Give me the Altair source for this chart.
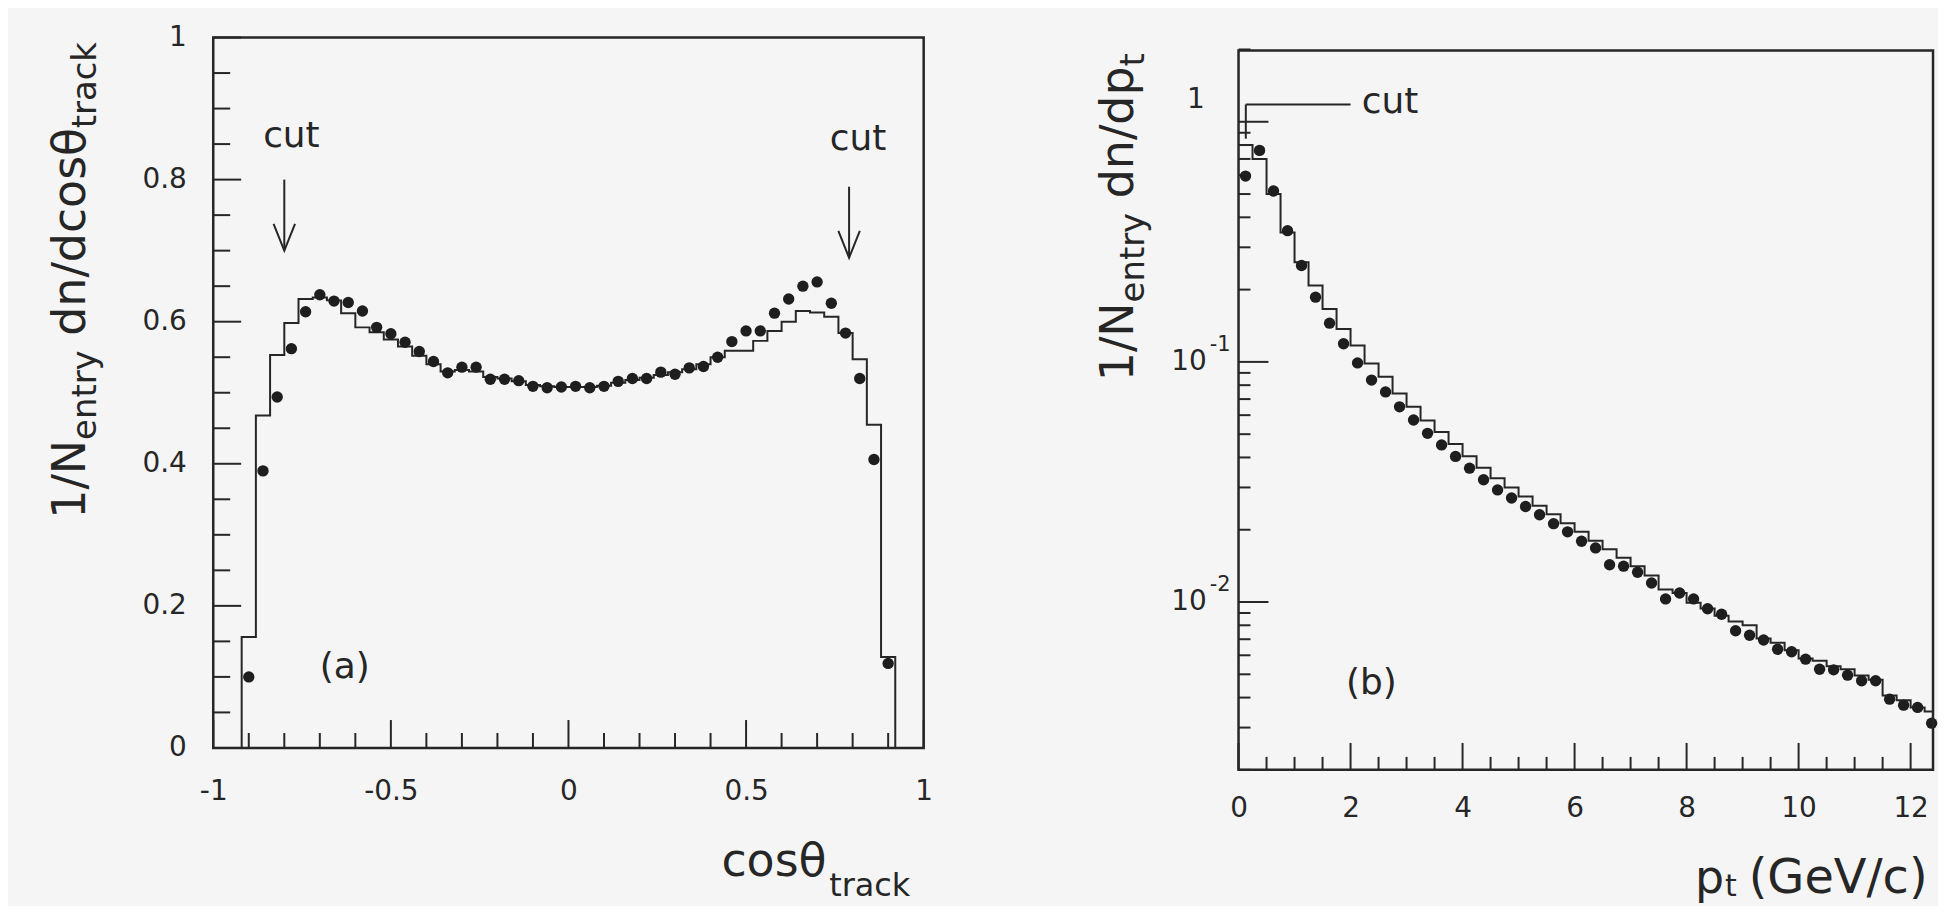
import altair as alt
import pandas as pd

FONT = "DejaVu Sans"
INK = "#262626"
BG = "#f5f5f5"

# ---------------- panel (a): cos(theta_track) ----------------
# 0.04-wide bins, centres -0.90 ... 0.90
cos_centres = [round(-0.90 + 0.04 * i, 2) for i in range(46)]
cos_data = [0.10, 0.39, 0.494, 0.562, 0.614, 0.638, 0.629, 0.627, 0.615, 0.592,
            0.583, 0.571, 0.558, 0.544, 0.528, 0.536, 0.536, 0.519, 0.519, 0.517,
            0.509, 0.507, 0.508, 0.509, 0.507, 0.509, 0.516, 0.520, 0.520, 0.529,
            0.526, 0.535, 0.537, 0.550, 0.572, 0.587, 0.587, 0.612, 0.632, 0.650,
            0.656, 0.626, 0.584, 0.520, 0.406, 0.119]
cos_mc = [0.156, 0.468, 0.553, 0.598, 0.632, 0.634, 0.630, 0.612, 0.592, 0.585,
          0.575, 0.565, 0.552, 0.540, 0.530, 0.532, 0.530, 0.522, 0.520, 0.516,
          0.511, 0.509, 0.508, 0.508, 0.508, 0.510, 0.514, 0.518, 0.521, 0.525,
          0.529, 0.533, 0.540, 0.550, 0.559, 0.559, 0.573, 0.587, 0.600, 0.615,
          0.613, 0.607, 0.584, 0.547, 0.455, 0.128]
cos_edges = [round(-0.92 + 0.04 * i, 2) for i in range(47)]
cut_a_x = [-0.80, 0.79]
cut_a_top = [0.80, 0.79]
cut_a_tip = [0.70, 0.69]
cut_a_label_x = [-0.78, 0.815]
cut_a_label_y = [0.862, 0.857]

# ---------------- panel (b): p_t ----------------
pt_centres = [0.125 + 0.25 * i for i in range(50)]
pt_data = [0.594, 0.76, 0.515, 0.352, 0.252, 0.186, 0.145, 0.119, 0.099, 0.084,
           0.075, 0.065, 0.0573, 0.0504, 0.0451, 0.0404, 0.0361, 0.0323, 0.0293, 0.0271,
           0.0250, 0.0231, 0.0212, 0.0196, 0.0179, 0.0168, 0.0143, 0.0141, 0.0133, 0.0120,
           0.0103, 0.0109, 0.0103, 0.00938, 0.00889, 0.00759, 0.00727, 0.00695, 0.00636, 0.00621,
           0.00578, 0.00525, 0.00522, 0.00496, 0.00470, 0.00470, 0.00394, 0.00372, 0.00364, 0.00313]
pt_mc = [0.80, 0.70, 0.50, 0.346, 0.26, 0.208, 0.166, 0.137, 0.117, 0.0984,
         0.0867, 0.0738, 0.0650, 0.0570, 0.0510, 0.0455, 0.0405, 0.0362, 0.0328, 0.0300,
         0.0275, 0.0252, 0.0232, 0.0213, 0.0196, 0.0180, 0.0166, 0.0153, 0.0141, 0.0129,
         0.01128, 0.0109, 0.00993, 0.0094, 0.00877, 0.0083, 0.0080, 0.00705, 0.00676, 0.0063,
         0.00582, 0.0057, 0.0054, 0.00525, 0.00494, 0.00475, 0.00408, 0.0039, 0.00364, 0.0035]
pt_edges = [0.25 * i for i in range(50)] + [12.4]
cut_b_x = 0.13
cut_b_x_end = 2.0
cut_b_y = 1.18
cut_b_y_low = 0.85

# ---------------- tick positions ----------------
a_y_major = [0, 0.2, 0.4, 0.6, 0.8, 1.0]
a_y_minor = [round(0.05 * i, 2) for i in range(21) if i % 4]
a_x_major = [-1, -0.5, 0, 0.5, 1]
a_x_minor = [round(-1 + 0.1 * i, 1) for i in range(21) if i % 5]
b_x_major = [0, 2, 4, 6, 8, 10, 12]
b_x_minor = [0.5 * i for i in range(25) if i % 4]
b_y_major = [1, 0.1, 0.01]
b_y_minor = [2] + [m * 10.0 ** e for e in (-1, -2, -3) for m in range(2, 10)]

WA, HA = 713, 713
WB, HB = 697, 735
B_TOP = 13

# DejaVu Sans advance widths (em) for laying out composed titles
ADV = {'1': 0.636, '/': 0.337, 'N': 0.748, 'e': 0.615, 'n': 0.634, 't': 0.392,
       'r': 0.411, 'y': 0.592, ' ': 0.318, 'd': 0.635, 'c': 0.550, 'o': 0.612,
       's': 0.521, 'θ': 0.602, 'a': 0.613, 'k': 0.579, 'p': 0.635}


def tw(s, size):
    return sum(ADV.get(ch, 0.6) for ch in s) * size


def one(**kw):
    return pd.DataFrame({k: [v] for k, v in kw.items()})


def ptext(text, x, y, size, angle=0, align="left", baseline="alphabetic"):
    return alt.Chart(one(t=text)).mark_text(
        font=FONT, fontSize=size, angle=angle, align=align, baseline=baseline, color=INK
    ).encode(x=alt.value(x), y=alt.value(y), text="t:N")


# ================= panel (a) =================
xsA = alt.Scale(domain=[-1, 1], nice=False, zero=False)
ysA = alt.Scale(domain=[0, 1], nice=False, zero=False)
xaxA = alt.Axis(values=a_x_major, ticks=False, domain=False, grid=False, labelPadding=30,
                labelFontSize=28, labelFont=FONT, labelColor=INK, labelFlush=False,
                labelOverlap=False, title=None, format="~g",
                labelExpr="replace(datum.label, '\u2212', '-')")
yaxA = alt.Axis(values=a_y_major, ticks=False, domain=False, grid=False, labelPadding=27,
                labelFontSize=28, labelFont=FONT, labelColor=INK, labelFlush=False,
                labelOverlap=False, title=None, format="~g")


def XA(f):
    return alt.X(f, scale=xsA, axis=xaxA)


def YA(f):
    return alt.Y(f, scale=ysA, axis=yaxA)


a_hist = pd.DataFrame({"x": [cos_edges[0]] + cos_edges[:-1] + [cos_edges[-1]],
                       "y": [0.0] + cos_mc + [0.0]})
a_hist["i"] = range(len(a_hist))
a_pts = pd.DataFrame({"x": cos_centres, "y": cos_data})
a_arrows = pd.DataFrame({"x": cut_a_x, "top": cut_a_top, "tip": cut_a_tip})
a_cut_lbl = pd.DataFrame({"x": cut_a_label_x, "y": cut_a_label_y, "t": ["cut", "cut"]})

layersA = [
    alt.Chart(pd.DataFrame({"v": a_y_major})).mark_rule(color=INK, strokeWidth=2).encode(
        y=YA("v:Q"), x=alt.value(0), x2=alt.value(28)),
    alt.Chart(pd.DataFrame({"v": a_y_minor})).mark_rule(color=INK, strokeWidth=2).encode(
        y=YA("v:Q"), x=alt.value(0), x2=alt.value(17)),
    alt.Chart(pd.DataFrame({"v": a_x_major})).mark_rule(color=INK, strokeWidth=2).encode(
        x=XA("v:Q"), y=alt.value(HA), y2=alt.value(HA - 28)),
    alt.Chart(pd.DataFrame({"v": a_x_minor})).mark_rule(color=INK, strokeWidth=2).encode(
        x=XA("v:Q"), y=alt.value(HA), y2=alt.value(HA - 15)),
    alt.Chart(a_hist).mark_line(interpolate="step-after", color=INK, strokeWidth=2).encode(
        x=XA("x:Q"), y=YA("y:Q"), order="i:Q"),
    alt.Chart(a_pts).mark_circle(size=130, color="#1e1e1e", opacity=1).encode(
        x=XA("x:Q"), y=YA("y:Q")),
    alt.Chart(a_arrows).mark_rule(color=INK, strokeWidth=2).encode(
        x=XA("x:Q"), y=YA("top:Q"), y2="tip:Q"),
    alt.Chart(a_arrows).mark_point(shape="M-0.4,-1L0,0L0.4,-1", size=2900, filled=False,
                                   color=INK, strokeWidth=2, opacity=1).encode(
        x=XA("x:Q"), y=YA("tip:Q")),
    alt.Chart(a_cut_lbl).mark_text(font=FONT, fontSize=36, color=INK, align="center",
                                   baseline="middle").encode(
        x=XA("x:Q"), y=YA("y:Q"), text="t:N"),
    alt.Chart(one(x=-0.63, y=0.114, t="(a)")).mark_text(
        font=FONT, fontSize=36, color=INK, align="center", baseline="middle").encode(
        x=XA("x:Q"), y=YA("y:Q"), text="t:N"),
    alt.Chart(one(a=0)).mark_rect(fillOpacity=0, stroke=INK, strokeWidth=2.5).encode(
        x=alt.value(0), x2=alt.value(WA), y=alt.value(0), y2=alt.value(HA)),
    # layout anchor (background coloured) fixing the page offset of the plot
    alt.Chart(one(a=0)).mark_rule(color=BG, strokeWidth=1).encode(
        x=alt.value(-205), x2=alt.value(-204), y=alt.value(-27), y2=alt.value(-26)),
]

# y title of (a): 1/N_entry dn/dcosθ_track (rotated)
yx, yy = -129, 483
y1 = yy
y2 = y1 - tw("1/N", 46)
y3 = y2 - tw("entry", 34) - tw(" ", 46)
y4 = y3 - tw("dn/dcosθ", 46)
layersA += [
    ptext("1/N", yx, y1, 46, angle=270),
    ptext("entry", yx + 11, y2, 34, angle=270),
    ptext("dn/dcosθ", yx, y3, 46, angle=270),
    ptext("track", yx + 11, y4, 34, angle=270),
    ptext("cosθ", 510, 842, 46),
    ptext("track", 510 + tw("cosθ", 46) + 3, 862, 32),
]

left = alt.layer(*layersA).properties(width=WA, height=HA)

# ================= panel (b) =================
xsB = alt.Scale(domain=[0, 12.4], nice=False, zero=False)
ysB = alt.Scale(type="log", domain=[0.002, 2], range=[HB, B_TOP - 1], nice=False)
xaxB = alt.Axis(values=b_x_major, ticks=False, domain=False, grid=False, labelPadding=25,
                labelFontSize=28, labelFont=FONT, labelColor=INK, labelFlush=False,
                labelOverlap=False, title=None, format="~g")


def XB(f):
    return alt.X(f, scale=xsB, axis=xaxB)


def YB(f):
    return alt.Y(f, scale=ysB, axis=None)


b_hist = pd.DataFrame({"x": pt_edges, "y": pt_mc + [pt_mc[-1]]})
b_hist["i"] = range(len(b_hist))
b_pts = pd.DataFrame({"x": pt_centres, "y": pt_data})
b_lbl_top = pd.DataFrame({"y": [1], "m": ["1"]})
b_lbl = pd.DataFrame({"y": [0.1, 0.01], "m": ["10", "10"], "s": ["-1", "-2"]})

layersB = [
    alt.Chart(pd.DataFrame({"v": b_y_major})).mark_rule(color=INK, strokeWidth=2).encode(
        y=YB("v:Q"), x=alt.value(0), x2=alt.value(30)),
    alt.Chart(pd.DataFrame({"v": b_y_minor})).mark_rule(color=INK, strokeWidth=2).encode(
        y=YB("v:Q"), x=alt.value(0), x2=alt.value(12)),
    alt.Chart(pd.DataFrame({"v": b_x_major})).mark_rule(color=INK, strokeWidth=2).encode(
        x=XB("v:Q"), y=alt.value(HB), y2=alt.value(HB - 27)),
    alt.Chart(pd.DataFrame({"v": b_x_minor})).mark_rule(color=INK, strokeWidth=2).encode(
        x=XB("v:Q"), y=alt.value(HB), y2=alt.value(HB - 13)),
    alt.Chart(b_hist).mark_line(interpolate="step-after", color=INK, strokeWidth=2).encode(
        x=XB("x:Q"), y=YB("y:Q"), order="i:Q"),
    alt.Chart(b_pts).mark_circle(size=130, color="#1e1e1e", opacity=1).encode(
        x=XB("x:Q"), y=YB("y:Q")),
    alt.Chart(one(x=cut_b_x, x2=cut_b_x_end, y=cut_b_y)).mark_rule(
        color=INK, strokeWidth=2).encode(x=XB("x:Q"), x2="x2:Q", y=YB("y:Q")),
    alt.Chart(one(x=cut_b_x, y=cut_b_y, y2=cut_b_y_low)).mark_rule(
        color=INK, strokeWidth=2).encode(x=XB("x:Q"), y=YB("y:Q"), y2="y2:Q"),
    alt.Chart(one(x=2.2, y=1.21, t="cut")).mark_text(
        font=FONT, fontSize=36, color=INK, align="left", baseline="middle").encode(
        x=XB("x:Q"), y=YB("y:Q"), text="t:N"),
    alt.Chart(one(x=2.37, y=0.0046, t="(b)")).mark_text(
        font=FONT, fontSize=36, color=INK, align="center", baseline="middle").encode(
        x=XB("x:Q"), y=YB("y:Q"), text="t:N"),
    alt.Chart(b_lbl_top).mark_text(font=FONT, fontSize=28, color=INK, align="right",
                                   baseline="middle", dy=-22).encode(
        x=alt.value(-34), y=YB("y:Q"), text="m:N"),
    alt.Chart(b_lbl).mark_text(font=FONT, fontSize=28, color=INK, align="right",
                               baseline="middle").encode(
        x=alt.value(-32), y=YB("y:Q"), text="m:N"),
    alt.Chart(b_lbl).mark_text(font=FONT, fontSize=21, color=INK, align="left",
                               baseline="middle", dy=-17).encode(
        x=alt.value(-29), y=YB("y:Q"), text="s:N"),
    alt.Chart(one(a=0)).mark_rect(fillOpacity=0, stroke=INK, strokeWidth=2.5).encode(
        x=alt.value(0), x2=alt.value(WB), y=alt.value(B_TOP), y2=alt.value(HB)),
]

# y title of (b): 1/N_entry dn/dp_t (rotated)
bx, by = -106, 345
b1 = by
b2 = b1 - tw("1/N", 46)
b3 = b2 - tw("entry", 34) - tw(" ", 46)
b4 = b3 - tw("dn/dp", 46)
layersB += [
    ptext("1/N", bx, b1, 46, angle=270),
    ptext("entry", bx + 11, b2, 34, angle=270),
    ptext("dn/dp", bx, b3, 46, angle=270),
    ptext("t", bx + 11, b4, 34, angle=270),
    ptext("p", 458, 859, 46),
    ptext("t", 458 + tw("p", 46) + 1, 862, 30),
    ptext("(GeV/c)", 512, 859, 48),
]

right = alt.layer(*layersB).properties(width=WB, height=HB)

chart = alt.hconcat(left, right, spacing=316, bounds="flush").properties(
    padding=0, background=BG
).configure_view(stroke="transparent")

chart.save("out.html", embed_options={"renderer": "svg", "actions": False})
